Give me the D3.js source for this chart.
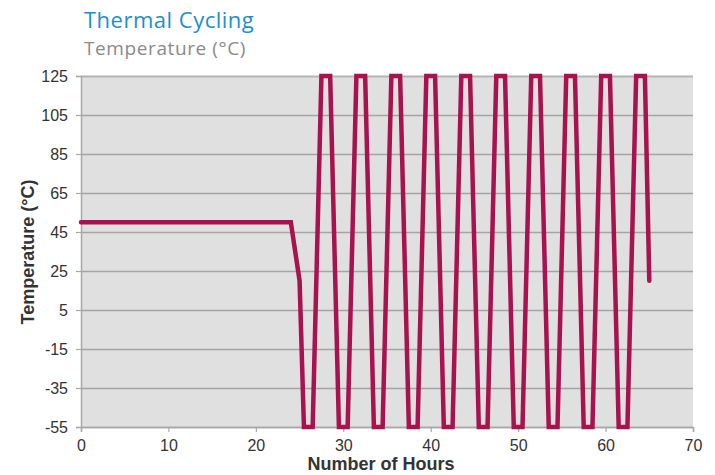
<!DOCTYPE html>
<html>
<head>
<meta charset="utf-8">
<script src="https://cdn.jsdelivr.net/npm/d3@7"></script>
<style>
  body { margin: 0; background: #fff; }
  svg { display: block; }
</style>
</head>
<body>
<svg></svg>
<script>
const width = 715;
const height = 475;
const margin = {top: 76, right: 22, bottom: 48, left: 81};

// time (hours) and temperature readings
const hours = [0, 24, 25,
  25.5, 26.5, 27.5, 28.5,
  29.5, 30.5, 31.5, 32.5,
  33.5, 34.5, 35.5, 36.5,
  37.5, 38.5, 39.5, 40.5,
  41.5, 42.5, 43.5, 44.5,
  45.5, 46.5, 47.5, 48.5,
  49.5, 50.5, 51.5, 52.5,
  53.5, 54.5, 55.5, 56.5,
  57.5, 58.5, 59.5, 60.5,
  61.5, 62.5, 63.5, 64.5,
  65];
const temps = [50, 50, 20,
  -55, -55, 125, 125,
  -55, -55, 125, 125,
  -55, -55, 125, 125,
  -55, -55, 125, 125,
  -55, -55, 125, 125,
  -55, -55, 125, 125,
  -55, -55, 125, 125,
  -55, -55, 125, 125,
  -55, -55, 125, 125,
  -55, -55, 125, 125,
  20];

const xTicks = [0, 10, 20, 30, 40, 50, 60, 70];
const yTicks = [-55, -35, -15, 5, 25, 45, 65, 85, 105, 125];

const title = 'Thermal Cycling';
const subtitle = 'Temperature (°C)';
const xTitle = 'Number of Hours';
const yTitle = 'Temperature (°C)';

const svg = d3.select('svg')
    .attr('width', width)
    .attr('height', height);

const x = d3.scaleLinear()
    .domain([0, 70])
    .range([margin.left, width - margin.right]);

const y = d3.scaleLinear()
    .domain([-55, 125])
    .range([height - margin.bottom, margin.top]);

// plot background
svg.append('rect')
    .attr('x', x(0))
    .attr('y', y(125))
    .attr('width', x(70) - x(0))
    .attr('height', y(-55) - y(125))
    .attr('fill', '#e0e0e0');

// gridlines
svg.append('g')
  .selectAll('line')
  .data(yTicks)
  .join('line')
    .attr('x1', x(0))
    .attr('x2', x(70))
    .attr('y1', d => Math.round(y(d)) + 0.5)
    .attr('y2', d => Math.round(y(d)) + 0.5)
    .attr('stroke', d => d === 125 ? '#b4b4b4' : '#a4a4a4')
    .attr('stroke-width', d => d === 125 ? 2 : 1.3);

// y axis
const yAxis = svg.append('g')
    .attr('transform', `translate(${x(0)},0)`)
    .call(d3.axisLeft(y).tickValues(yTicks).tickFormat(d => String(d))
      .tickSize(5).tickPadding(8));

// x axis
const xAxis = svg.append('g')
    .attr('transform', `translate(0,${y(-55)})`)
    .call(d3.axisBottom(x).tickValues(xTicks).tickFormat(d => String(d))
      .tickSize(5).tickPadding(8));

[yAxis, xAxis].forEach(a => {
  a.select('.domain').attr('stroke', '#a8a8a8').attr('stroke-width', 1.5);
  a.selectAll('.tick line').attr('stroke', '#a8a8a8').attr('stroke-width', 1.2);
  a.selectAll('.tick text')
      .attr('fill', '#333')
      .style('font-family', '"Liberation Sans", Arial, sans-serif')
      .style('font-size', '16px');
});

// temperature line
const line = d3.line()
    .x((d, i) => x(hours[i]))
    .y(d => y(d));

svg.append('path')
    .datum(temps)
    .attr('d', line)
    .attr('fill', 'none')
    .attr('stroke', '#a8124f')
    .attr('stroke-width', 4.5)
    .attr('stroke-linejoin', 'miter')
    .attr('stroke-linecap', 'round');

// titles
svg.append('text')
    .attr('x', 84)
    .attr('y', 28)
    .attr('fill', '#1b8fd1')
    .style('font-family', '"Open Sans", sans-serif')
    .style('font-size', '22px')
    .style('letter-spacing', '0.5px')
    .text(title);

svg.append('text')
    .attr('x', 84)
    .attr('y', 55)
    .attr('fill', '#8a8a8a')
    .style('font-family', '"Open Sans", sans-serif')
    .style('font-size', '19px')
    .style('letter-spacing', '0.6px')
    .text(subtitle);

svg.append('text')
    .attr('x', 381)
    .attr('y', 470)
    .attr('text-anchor', 'middle')
    .attr('fill', '#333')
    .style('font-family', '"Liberation Sans", Arial, sans-serif')
    .style('font-size', '18px')
    .style('font-weight', 'bold')
    .text(xTitle);

svg.append('text')
    .attr('transform', 'translate(28,252) rotate(-90)')
    .attr('text-anchor', 'middle')
    .attr('dy', '0.35em')
    .attr('fill', '#333')
    .style('font-family', '"Liberation Sans", Arial, sans-serif')
    .style('font-size', '18px')
    .style('font-weight', 'bold')
    .text(yTitle);
</script>
</body>
</html>
